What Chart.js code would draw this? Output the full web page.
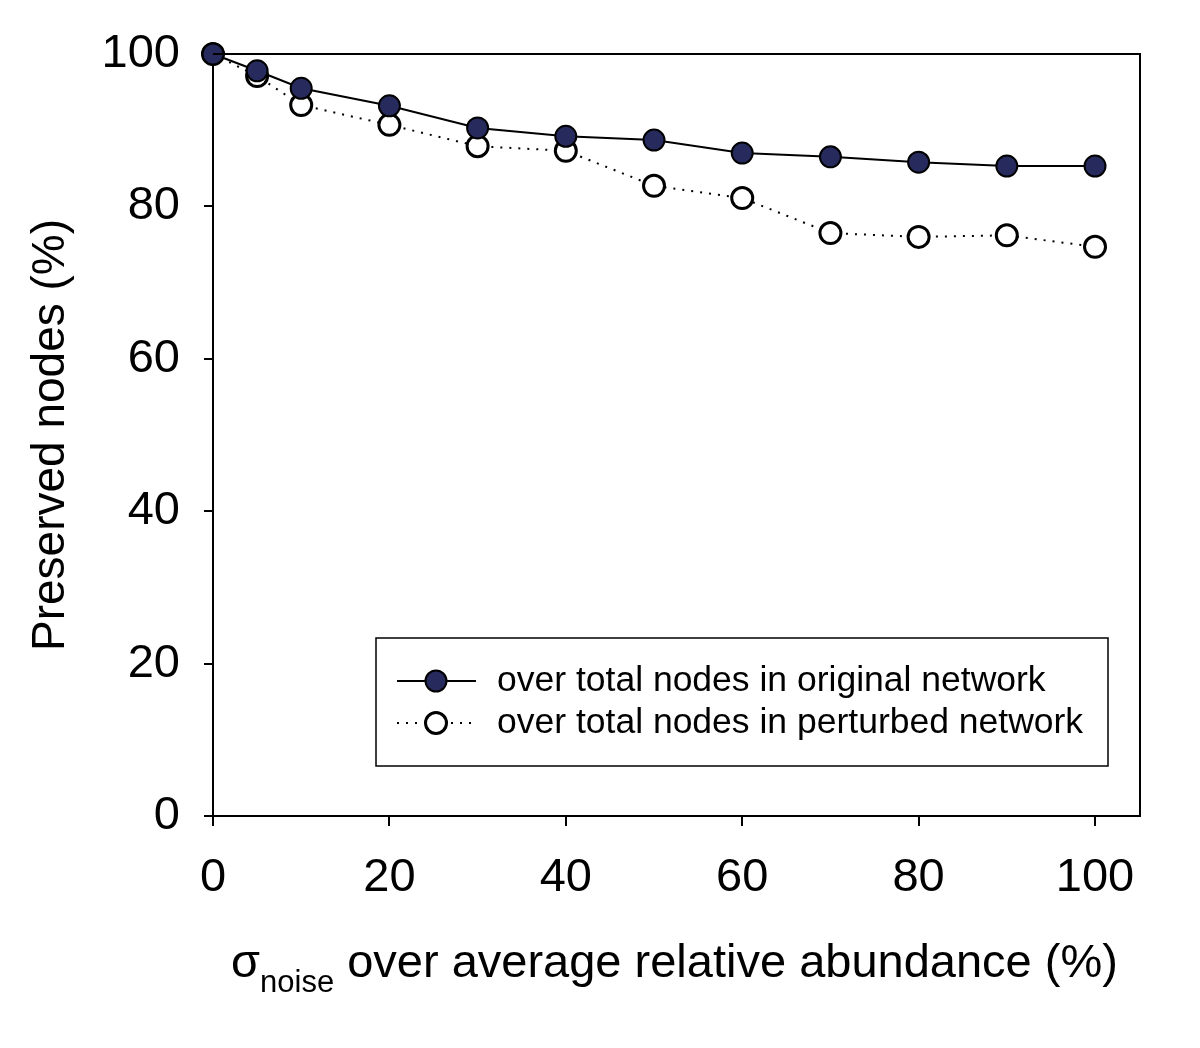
<!DOCTYPE html>
<html lang="en">
<head>
    <meta charset="UTF-8">
    <title>Preserved nodes vs noise</title>
    <script src="https://cdn.jsdelivr.net/npm/chart.js"></script>
    <style>
        body { margin: 0; background: #fff; }
    </style>
</head>
<body>
    <canvas id="noiseChart" width="1200" height="1048"></canvas>

    <script>
        // values
        const noiseLevels = [0, 5, 10, 20, 30, 40, 50, 60, 70, 80, 90, 100];
        const overOriginal = [100, 97.8, 95.5, 93.2, 90.3, 89.2, 88.7, 87.0, 86.5, 85.8, 85.3, 85.3];
        const overPerturbed = [100, 97.1, 93.3, 90.7, 87.9, 87.3, 82.7, 81.1, 76.5, 76.0, 76.2, 74.7];
        const xTickValues = [0, 20, 40, 60, 80, 100];
        const yTickValues = [0, 20, 40, 60, 80, 100];
        const seriesLabels = ['over total nodes in original network', 'over total nodes in perturbed network'];

        const FONT = '"Liberation Sans", Arial, sans-serif';

        // frame, inset legend and the subscripted x title
        const extras = {
            id: 'extras',
            afterDraw(chart) {
                const ctx = chart.ctx;
                const a = chart.chartArea;
                ctx.save();
                ctx.strokeStyle = '#000';
                ctx.lineWidth = 2;
                ctx.beginPath();
                ctx.moveTo(a.left, a.top);
                ctx.lineTo(a.right, a.top);
                ctx.lineTo(a.right, a.bottom);
                ctx.stroke();

                // legend box
                const bx = a.left + 163, by = a.top + 584, bw = 732, bh = 128;
                ctx.fillStyle = '#fff';
                ctx.fillRect(bx, by, bw, bh);
                ctx.lineWidth = 1.5;
                ctx.strokeRect(bx, by, bw, bh);
                ctx.font = '35.5px ' + FONT;
                ctx.textBaseline = 'middle';
                chart.data.datasets.forEach((ds, i) => {
                    const cy = by + 43 + i * 42;
                    ctx.strokeStyle = '#000';
                    ctx.lineWidth = ds.borderWidth;
                    ctx.setLineDash(ds.borderDash || []);
                    ctx.beginPath();
                    ctx.moveTo(bx + 21, cy);
                    ctx.lineTo(bx + 100, cy);
                    ctx.stroke();
                    ctx.setLineDash([]);
                    ctx.beginPath();
                    ctx.arc(bx + 60, cy, ds.pointRadius, 0, Math.PI * 2);
                    ctx.fillStyle = ds.pointBackgroundColor;
                    ctx.fill();
                    ctx.lineWidth = ds.pointBorderWidth;
                    ctx.stroke();
                    ctx.fillStyle = '#000';
                    ctx.textAlign = 'left';
                    ctx.fillText(ds.label, bx + 121, cy);
                });

                // x axis title with subscript
                ctx.fillStyle = '#000';
                ctx.textBaseline = 'alphabetic';
                ctx.textAlign = 'left';
                const ty = 977;
                let tx = 231;
                ctx.font = '47px ' + FONT;
                ctx.fillText('σ', tx, ty);
                tx += ctx.measureText('σ').width;
                ctx.font = '31px ' + FONT;
                ctx.fillText('noise', tx, ty + 15);
                tx += ctx.measureText('noise').width;
                ctx.font = '47px ' + FONT;
                ctx.fillText(' over average relative abundance (%)', tx, ty);
                ctx.restore();
            }
        };

        const ctx = document.getElementById('noiseChart').getContext('2d');
        new Chart(ctx, {
            type: 'line',
            data: {
                datasets: [
                    {
                        label: seriesLabels[0],
                        data: noiseLevels.map((x, i) => ({ x: x, y: overOriginal[i] })),
                        borderColor: '#000',
                        borderWidth: 2,
                        pointRadius: 10.5,
                        pointBackgroundColor: '#272a5c',
                        pointBorderColor: '#000',
                        pointBorderWidth: 2,
                        fill: false,
                        tension: 0,
                        order: 1
                    },
                    {
                        label: seriesLabels[1],
                        data: noiseLevels.map((x, i) => ({ x: x, y: overPerturbed[i] })),
                        borderColor: '#000',
                        borderWidth: 2,
                        borderDash: [2, 7],
                        pointRadius: 10.5,
                        pointBackgroundColor: '#fff',
                        pointBorderColor: '#000',
                        pointBorderWidth: 3,
                        fill: false,
                        tension: 0,
                        order: 2
                    }
                ]
            },
            options: {
                responsive: false,
                animation: false,
                clip: false,
                layout: { padding: { top: 54, right: 60, left: 0, bottom: 0 } },
                plugins: {
                    legend: { display: false },
                    tooltip: { enabled: false }
                },
                scales: {
                    x: {
                        type: 'linear',
                        min: 0,
                        max: 105.1,
                        afterBuildTicks: scale => { scale.ticks = xTickValues.map(v => ({ value: v })); },
                        afterFit: scale => { scale.height = 232; },
                        grid: { drawOnChartArea: false, color: '#000', tickLength: 10, lineWidth: 2 },
                        border: { color: '#000', width: 2 },
                        ticks: { color: '#000', font: { family: FONT, size: 47 }, padding: 24, maxRotation: 0 }
                    },
                    y: {
                        min: 0,
                        max: 100,
                        afterBuildTicks: scale => { scale.ticks = yTickValues.map(v => ({ value: v })); },
                        afterFit: scale => { scale.width = 213; },
                        grid: { drawOnChartArea: false, color: '#000', tickLength: 9, lineWidth: 2 },
                        border: { color: '#000', width: 2 },
                        ticks: { color: '#000', font: { family: FONT, size: 47 }, padding: 24 },
                        title: {
                            display: true,
                            text: 'Preserved nodes (%)',
                            align: 'center',
                            color: '#000',
                            font: { family: FONT, size: 46 },
                            padding: { top: 24, bottom: 0 }
                        }
                    }
                }
            },
            plugins: [extras]
        });
    </script>
</body>
</html>
